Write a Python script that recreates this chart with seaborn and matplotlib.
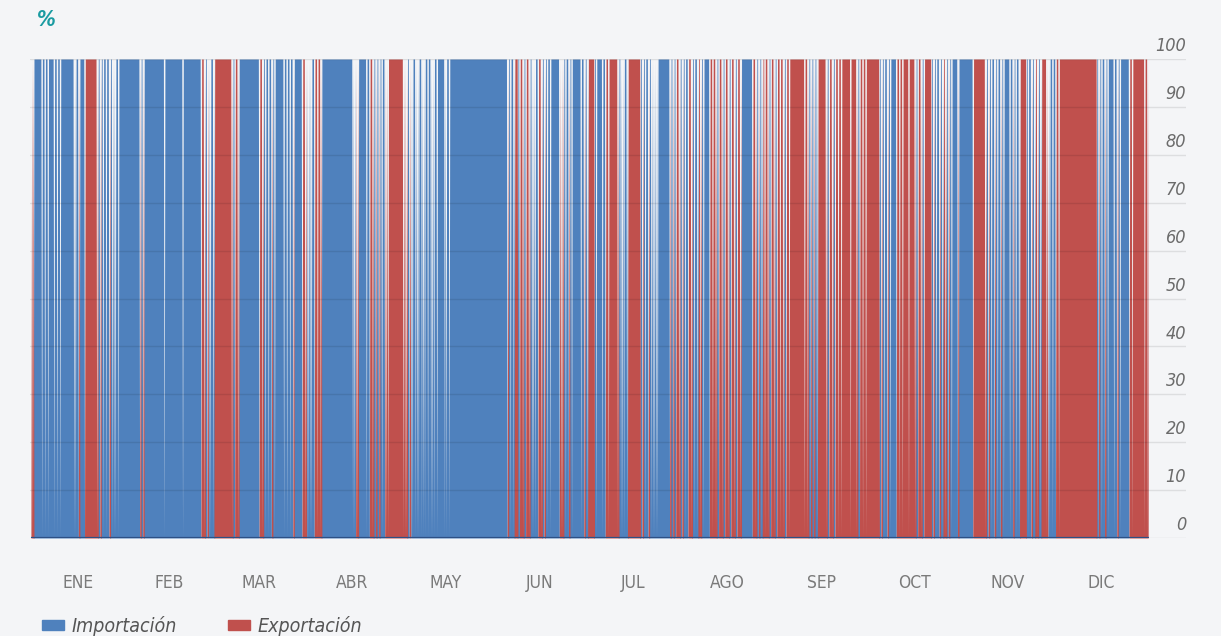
import numpy as np
import matplotlib.pyplot as plt
import seaborn as sns
from matplotlib.patches import Patch

months = ["ENE", "FEB", "MAR", "ABR", "MAY", "JUN", "JUL", "AGO", "SEP", "OCT", "NOV", "DIC"]
month_days = [31, 28, 31, 30, 31, 30, 31, 31, 30, 31, 30, 31]

# estado diario, una letra por dia
# I importa todo el dia, E exporta todo el dia, i/e casi todo import/export con horas sin flujo,
# m import y export el mismo dia, b/r casi sin flujo con algo de import/export
ene = "rIIiiiIiiiIIIIbmImEEEemiimibiII"
feb = "IIIImmIIIIIIiIIIIIiIIIIImemb"
mar = "iEEEEEemeIIIIIImeiimiIIiiimIIme"
abr = "bbmee" + "IIIIIIIIII" + "brIIimemmi" + "mrEEE"
may = "Eermbibibiibi" + "IIbi" + "IIIIIIIIIIIIII"
jun = "IIIImiiEmemeibmemiiIImrimiIIim"
jul = "iEEiIimeEEeibiEEEEmimibbIIImmme"
ago = "mimeiieiI" + "meememememe" + "III" + "memieeme"
sep = "meemeEEEEeemmiEEememeeEEeEemee"
octu = "EEEEmimiImeeEeEememEEmimiemiImI"
nov = "IIImEEEemimimiIimiiEEimieiEebi"
dic = "me" + "EEEEEEEEEEEE" + "mimiIimiII" + "meEEEee"

# cada dia en 4 bloques de 6 h: I importacion 100 %, E exportacion 100 %, 0 sin flujo
day_blocks = {
    "I": "IIII",
    "E": "EEEE",
    "i": "II0I",
    "e": "EE0E",
    "m": "II0E",
    "b": "0I0I",
    "r": "0E0E",
}

days = ene + feb + mar + abr + may + jun + jul + ago + sep + octu + nov + dic
blocks = "".join(day_blocks[c] for c in days)
x = np.arange(len(blocks)) / 4
imp = np.array([100 if b == "I" else 0 for b in blocks])
exp = np.array([100 if b == "E" else 0 for b in blocks])

blue = "#4f81bd"
red = "#c0504d"
bg = "#f4f5f7"

sns.set_theme(style="white")
plt.rcParams["font.family"] = ["DejaVu Sans"]
plt.rcParams["font.stretch"] = "condensed"

fig = plt.figure(figsize=(12.21, 6.36), dpi=100)
fig.patch.set_facecolor(bg)
ax = fig.add_axes([30 / 1221, 98 / 636, 1156 / 1221, 479 / 636])
ax.set_facecolor(bg)

ax.fill_between(x, 0, imp, color=blue, linewidth=0)
ax.fill_between(x, 0, exp, color=red, linewidth=0)

ax.set_xlim(-0.3, 377.1)
ax.set_ylim(0, 100)

yt = np.arange(0, 101, 10)
ax.set_yticks(yt)
ax.set_yticklabels([])
ax.grid(axis="y", color="black", alpha=0.09, linewidth=1)
ax.grid(axis="x", visible=False)
ax.set_axisbelow(False)
ax.tick_params(axis="y", length=0)
for v in yt:
    ax.text(1.0, v + 0.8, str(v), transform=ax.get_yaxis_transform(),
            ha="right", va="bottom", fontsize=13, style="italic", color="#6b6b6b")

starts = np.cumsum([0] + month_days[:-1])
mids = starts + np.array(month_days) / 2
ax.set_xticks(mids)
ax.set_xticklabels(months, fontsize=12.5, color="#7a7a7a")
ax.tick_params(axis="x", length=0, pad=26)

sns.despine(ax=ax, left=True, right=True, top=True, bottom=True)
ax.hlines(0, x[0], len(days), color="#2e5288", linewidth=1.6)

fig.text(37 / 1221, 1 - 20 / 636, "%", color="#1a9ba1", fontsize=15,
         style="italic", weight="bold", va="center")

handles = [Patch(color=blue, label="Importación"), Patch(color=red, label="Exportación")]
leg = fig.legend(handles=handles, loc="center left", bbox_to_anchor=(24 / 1221, 1 - 626 / 636),
                 ncol=2, frameon=False, fontsize=14, handlelength=1.15, handleheight=0.45,
                 handletextpad=0.4, columnspacing=2.6)
for t in leg.get_texts():
    t.set_style("italic")
    t.set_color("#555555")

fig.savefig("out.png", dpi=100, facecolor=bg)
